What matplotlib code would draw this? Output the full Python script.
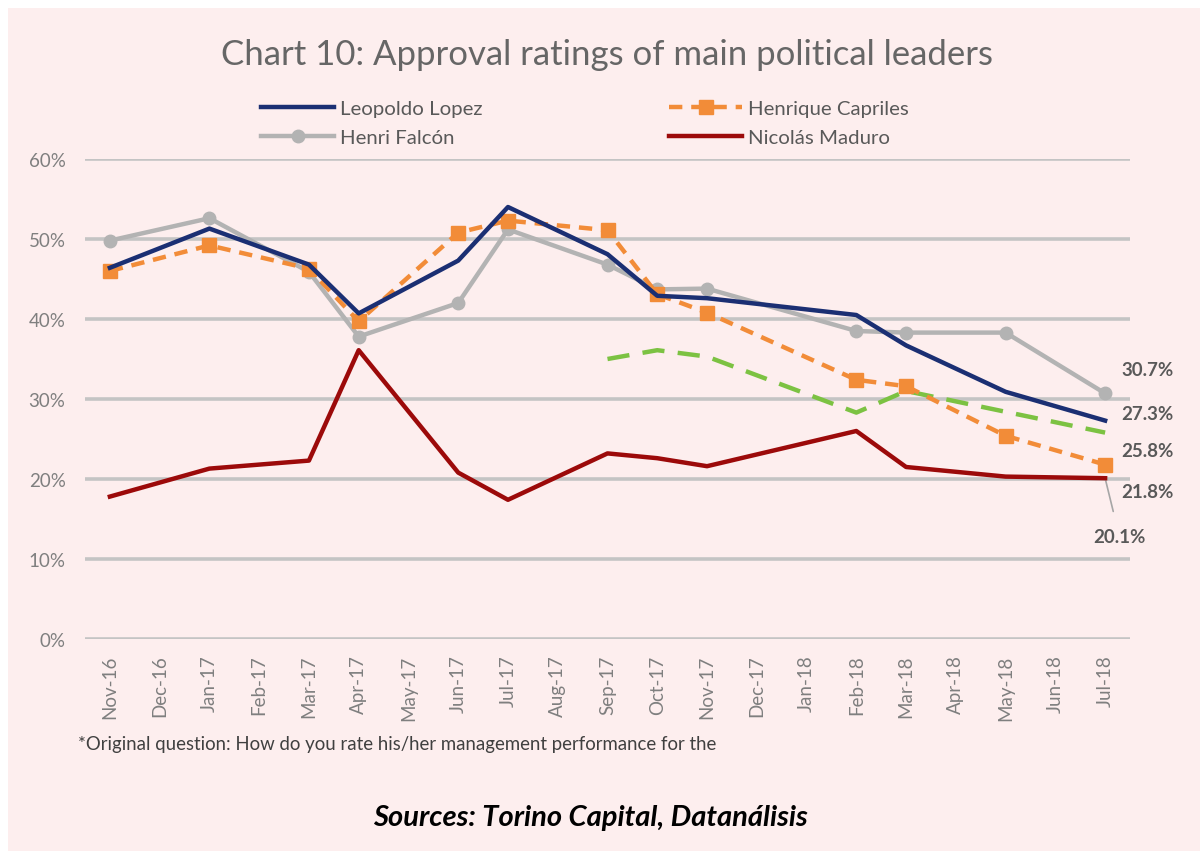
import numpy as np
import matplotlib.pyplot as plt
from matplotlib.patches import Rectangle

months = ['Nov-16', 'Dec-16', 'Jan-17', 'Feb-17', 'Mar-17', 'Apr-17', 'May-17',
          'Jun-17', 'Jul-17', 'Aug-17', 'Sep-17', 'Oct-17', 'Nov-17', 'Dec-17',
          'Jan-18', 'Feb-18', 'Mar-18', 'Apr-18', 'May-18', 'Jun-18', 'Jul-18']
nan = np.nan
# approval, % (nan = no survey that month)
lopez = [46.4, nan, 51.3, nan, 46.8, 40.7, nan, 47.3, 54.0, nan, 48.1, 42.9,
         42.6, nan, nan, 40.5, 36.7, nan, 30.9, nan, 27.3]
capriles = [46.0, nan, 49.2, nan, 46.3, 39.7, nan, 50.8, 52.3, nan, 51.1, 43.1,
            40.8, nan, nan, 32.4, 31.6, nan, 25.4, nan, 21.8]
falcon = [49.8, nan, 52.6, nan, 45.9, 37.8, nan, 42.0, 51.2, nan, 46.8, 43.7,
          43.8, nan, nan, 38.5, 38.3, nan, 38.3, nan, 30.7]
maduro = [17.8, nan, 21.3, nan, 22.3, 36.1, nan, 20.8, 17.4, nan, 23.2, 22.6,
          21.6, nan, nan, 26.0, 21.5, nan, 20.3, nan, 20.1]
unnamed = [nan, nan, nan, nan, nan, nan, nan, nan, nan, nan, 35.0, 36.1,
           35.3, nan, nan, 28.3, 31.0, nan, 28.4, nan, 25.8]

yticks = [0, 10, 20, 30, 40, 50, 60]

bg = '#fdeeee'
txt = '#595959'

plt.rcParams['font.family'] = ['Lato', 'DejaVu Sans']

fig = plt.figure(figsize=(12, 8.54), dpi=100)
fig.patch.set_facecolor('white')
fig.patches.append(Rectangle((8 / 1200, 0.002), 1 - 8 / 1200, 1 - 9 / 854 - 0.002,
                             transform=fig.transFigure, facecolor=bg,
                             edgecolor='none', zorder=-10))

ax = fig.add_axes([85 / 1200, 1 - 640 / 854, 1045 / 1200, 480 / 854])
ax.set_facecolor('none')

x = np.arange(len(months))


def line(vals, **kw):
    v = np.array(vals, dtype=float)
    m = ~np.isnan(v)
    return ax.plot(x[m], v[m] / 100, **kw)


line(unnamed, color='#7cc242', lw=3.2, dashes=(5, 3), zorder=3)
line(maduro, color='#9c0a0a', lw=3.2, label='Nicolás Maduro', zorder=4)
line(falcon, color='#b3b3b3', lw=3.2, marker='o', ms=9, label='Henri Falcón', zorder=5)
line(capriles, color='#f28c38', lw=3.2, dashes=(3, 2), marker='s', ms=10,
     label='Henrique Capriles', zorder=6)
line(lopez, color='#1b2f73', lw=3.2, label='Leopoldo Lopez', zorder=7)

ax.set_xlim(-0.5, len(months) - 0.5)
ax.set_ylim(0, 0.6)
ax.set_yticks([t / 100 for t in yticks])
ax.set_yticklabels([f'{t}%' for t in yticks], fontsize=13.5, color='#7f7f7f')
ax.set_xticks(x)
ax.set_xticklabels(months, rotation=90, fontsize=13.5, color='#7f7f7f')
ax.tick_params(length=0, pad=14)
ax.tick_params(axis='x', pad=11)
ax.grid(axis='y', color='#c4c4c4', lw=2.6)
ax.set_axisbelow(True)
for s in ax.spines.values():
    s.set_visible(False)

# end-of-line labels (offsets in pixels)
last = len(months) - 1
lab = dict(fontsize=13.5, fontweight='bold', color=txt, ha='left', va='center',
           textcoords='offset pixels')
ax.annotate('30.7%', (last, 0.307), xytext=(16, 24), **lab)
ax.annotate('27.3%', (last, 0.273), xytext=(16, 7), **lab)
ax.annotate('25.8%', (last, 0.258), xytext=(16, -18), **lab)
ax.annotate('21.8%', (last, 0.218), xytext=(16, -27), **lab)
ax.annotate('20.1%', (last, 0.201), xytext=(-12, -58),
            arrowprops=dict(arrowstyle='-', color='#a6a6a6', lw=1.2,
                            shrinkA=10, shrinkB=0), **lab)

h, l = ax.get_legend_handles_labels()
order = [l.index(n) for n in ['Leopoldo Lopez', 'Henri Falcón',
                              'Henrique Capriles', 'Nicolás Maduro']]
leg = fig.legend([h[i] for i in order], [l[i] for i in order], ncol=2,
                 loc='center', bbox_to_anchor=(585 / 1200, 1 - 124 / 854),
                 frameon=False, fontsize=14.7, handlelength=3.6, columnspacing=9.1,
                 labelspacing=0.55, handletextpad=0.3, labelcolor=txt)

fig.text(607 / 1200, 1 - 55 / 854, 'Chart 10: Approval ratings of main political leaders',
         ha='center', va='center', fontsize=25, color='#666666')
fig.text(78 / 1200, 1 - 745 / 854,
         '*Original question: How do you rate his/her management performance for the',
         ha='left', va='center', fontsize=13.4, color='#404040')
fig.text(590 / 1200, 1 - 818 / 854, 'Sources: Torino Capital, Datanálisis',
         ha='center', va='center', fontsize=21, fontweight='bold', style='italic',
         color='black')

fig.savefig('out.png', dpi=100, facecolor=fig.get_facecolor())
